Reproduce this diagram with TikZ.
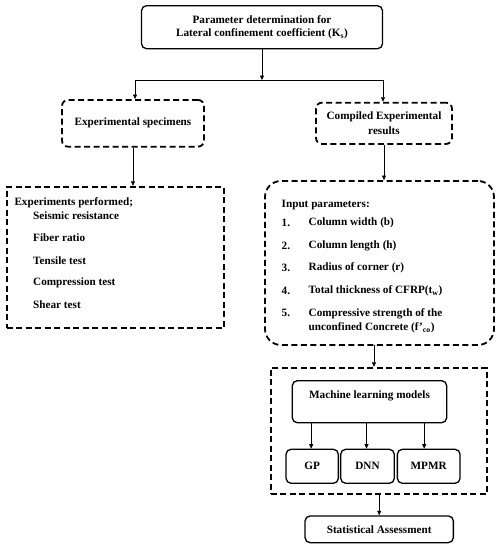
\documentclass[tikz,border=0pt]{standalone}
\usepackage{fontspec}
\setmainfont{Liberation Serif}
\usetikzlibrary{arrows.meta,calc}
\begin{document}
\begin{tikzpicture}[x=1pt,y=-1pt,
  font=\bfseries\fontsize{11.2}{13}\selectfont,
  sbox/.style={draw, line width=1.3pt, rounded corners=5pt, align=center, inner sep=0pt},
  dbox/.style={draw, line width=1.8pt, dash pattern=on 6pt off 3.5pt, align=center, inner sep=0pt},
  arr/.style={-{Triangle[length=4.5pt,width=4pt]}, line width=0.6pt},
  lnk/.style={line width=0.6pt},
  lbl/.style={inner sep=0pt, anchor=west},
]
\useasboundingbox (0,0) rectangle (502,550);

% top box
\node[sbox, minimum width=241pt, minimum height=43pt] (top) at (262,27.2)
  {Parameter determination for\\Lateral confinement coefficient (K\textsubscript{s})};
\coordinate (jn) at (262,80);
\coordinate (jl) at (135,80);
\coordinate (jr) at (383,80);
\draw[arr] (top.south) -- (jn);
\draw[lnk] (jl) -- (jr);

% second row
\node[dbox, rounded corners=6pt, minimum width=142pt, minimum height=46.7pt] (spec) at (133,123.3)
  {Experimental specimens};
\node[dbox, rounded corners=6pt, minimum width=136pt, minimum height=41.3pt,
  font=\bfseries\fontsize{11.2}{14.5}\selectfont] (comp) at (384,123.3)
  {Compiled Experimental\\results};
\draw[arr] (jl) -- (jl |- spec.north);
\draw[arr] (jr) -- (jr |- comp.north);

% left big box
\node[dbox, minimum width=217.3pt, minimum height=141pt] (expb) at (115.3,257.2) {};
\draw[arr] (spec.south) -- (spec.south |- expb.north);
\node[lbl] (e0) at (14.3,203) {Experiments performed;};
\node[lbl] (e1) at (33,215.7) {Seismic resistance};
\node[lbl] (e2) at (33,238) {Fiber ratio};
\node[lbl] (e3) at (33,260.7) {Tensile test};
\node[lbl] (e4) at (33,282.7) {Compression test};
\node[lbl] (e5) at (33,305) {Shear test};

% right big box
\node[dbox, rounded corners=16pt, minimum width=229pt, minimum height=164pt] (inp) at (379.5,263) {};
\draw[arr] (comp.south) -- (comp.south |- inp.north);
\node[lbl] (i0) at (281.5,205) {Input parameters:};
\node[lbl] (n1) at (281.5,223) {1.};
\node[lbl] (n2) at (281.5,246) {2.};
\node[lbl] (n3) at (281.5,268) {3.};
\node[lbl] (n4) at (281.5,291) {4.};
\node[lbl] (n5) at (281.5,313) {5.};
\node[lbl] (t1) at (308.5,223) {Column width (b)};
\node[lbl] (t2) at (308.5,246) {Column length (h)};
\node[lbl] (t3) at (308.5,268) {Radius of corner (r)};
\node[lbl] (t4) at (308.5,291) {Total thickness of CFRP(t\textsubscript{w})};
\node[lbl, align=left, font=\bfseries\fontsize{11.2}{14.5}\selectfont] (t5) at (308.5,320.5)
  {Compressive strength of the\\unconfined Concrete (f’\textsubscript{co})};

% ML dashed box
\node[dbox, minimum width=216pt, minimum height=126.6pt] (mlb) at (378.7,431) {};
\coordinate (ia) at (374,345);
\draw[arr] (ia) -- (ia |- mlb.north);
\node[sbox, minimum width=154.4pt, minimum height=42pt] (mlm) at (369.5,401.7) {};
\node (mlt) at (369.5,396) {Machine learning models};
\node[sbox, minimum width=52.3pt, minimum height=34pt] (gp) at (312.2,466.3) {GP};
\node[sbox, minimum width=53.6pt, minimum height=34pt] (dnn) at (367.5,466.3) {DNN};
\node[sbox, minimum width=62.7pt, minimum height=34pt] (mpmr) at (428.7,466.3) {MPMR};
\draw[arr] ([xshift=-1pt]gp.north |- mlm.south) -- ([xshift=-1pt]gp.north);
\draw[arr] ([xshift=-1pt]dnn.north |- mlm.south) -- ([xshift=-1pt]dnn.north);
\draw[arr] ([xshift=-4.5pt]mpmr.north |- mlm.south) -- ([xshift=-4.5pt]mpmr.north);

% statistical
\node[sbox, minimum width=148.3pt, minimum height=26.7pt] (stat) at (379.2,529.3) {Statistical Assessment};
\draw[arr] (mlb.south -| stat.north) -- (stat.north);
\end{tikzpicture}
\end{document}
